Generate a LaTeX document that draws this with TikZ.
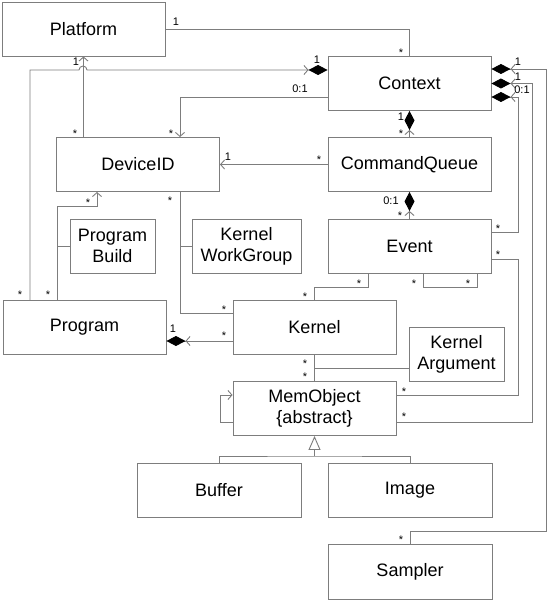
\documentclass[tikz,border=0pt]{standalone}
\usepackage{fontspec}
\setmainfont{Liberation Sans}
\usetikzlibrary{arrows.meta}
\definecolor{linegray}{RGB}{125,125,125}

\begin{document}
\begin{tikzpicture}[x=1pt,y=-1pt,
  box/.style={draw=linegray, line width=0.9pt, fill=white, minimum width=163pt, minimum height=54pt,
    inner sep=0pt, align=center, font=\fontsize{18}{21}\selectfont},
  mult/.style={inner sep=0pt, font=\fontsize{11}{12}\selectfont},
  link/.style={draw=linegray, line width=0.9pt},
  nav/.style={link, -{Straight Barb[length=4pt,width=9pt]}},
  comp/.style={link, -{Straight Barb[length=4pt,width=9pt]Diamond[length=19pt,width=10pt,black]}},
  gen/.style={link, -{Triangle[open,length=14pt,width=12pt,fill=white]}}]

% 画布大小
\useasboundingbox (0,0) rectangle (549,601);

% 类
\node[box] (Platform) at (83.5,29) {Platform};
\node[box] (Context) at (409.5,83.5) {Context};
\node[box] (DeviceID) at (138,164.5) {DeviceID};
\node[box] (CommandQueue) at (409.5,164.5) {CommandQueue};
\node[box, minimum width=85pt] (ProgramBuild) at (112.5,246) {Program\\Build};
\node[box, minimum width=109pt] (KernelWorkGroup) at (246.5,246) {Kernel\\WorkGroup};
\node[box] (Event) at (409.5,246) {Event};
\node[box] (Program) at (84.5,327.5) {Program};
\node[box] (Kernel) at (314.5,327.5) {Kernel};
\node[box, minimum width=95pt] (KernelArgument) at (456.5,354) {Kernel\\Argument};
\node[box] (MemObject) at (314.5,408.5) {MemObject\\\{abstract\}};
\node[box, minimum width=164pt] (Buffer) at (219,490) {Buffer};
\node[box, minimum width=164pt] (Image) at (410,490) {Image};
\node[box, minimum width=164pt, minimum height=55pt] (Sampler) at (410,571.5) {Sampler};

% 上部的关联
\draw[link] (Platform.east) -| (Context.north);
\draw[comp] ([xshift=-54.5pt]Program.north) |- (79,70) arc[start angle=180, end angle=360, radius=4]
  -- ([yshift=13.5pt]Context.west);
\draw[nav] (Platform.south |- DeviceID.north) -- (Platform.south);
\draw[nav] ([yshift=-13.5pt]Context.west) -| ([xshift=42pt]DeviceID.north);
\draw[comp] (CommandQueue.north) -- (Context.south);
\draw[nav] (CommandQueue.west) -- (DeviceID.east);
\draw[comp] (Event.north) -- (CommandQueue.south);

% Context 右侧的组合
\draw[comp] (Sampler.north) |- (546,531) |- ([yshift=14.5pt]Context.east);
\draw[comp] ([yshift=-13.5pt]MemObject.east) -| (532,83.5) -- (Context.east);
\draw[comp] ([yshift=13.5pt]Event.east) -| (518,97) -- ([yshift=-13.5pt]Context.east);
\draw[link] ([yshift=-13pt]Event.east) -| (518,395) -- ([yshift=13.5pt]MemObject.east);

% DeviceID 下方的关联类
\draw[nav] ([xshift=-27.5pt]Program.north) |- (97,206) -- ([xshift=-41pt]DeviceID.south);
\draw[link] (ProgramBuild.west) -- ++(-13,0);
\draw[link] ([xshift=42pt]DeviceID.south) |- ([yshift=14.5pt]Kernel.west);
\draw[link] (KernelWorkGroup.west) -- ++(-12,0);
\draw[comp] ([yshift=-13.5pt]Kernel.west) -- ([yshift=-13.5pt]Program.east);

% Event 与 Kernel
\draw[link] ([xshift=-41.5pt]Event.south) |- (314.5,287) -- (Kernel.north);
\draw[link] ([xshift=13.5pt]Event.south) -- ++(0,14) -| ([xshift=67.5pt]Event.south);

% Kernel 与 MemObject
\draw[link] (Kernel.south) -- (MemObject.north);
\draw[link] ([yshift=-14pt]KernelArgument.west) -- ([yshift=-14pt]KernelArgument.west -| Kernel.south);
\draw[nav] ([yshift=-13.5pt]MemObject.west) -- ++(-12,0) |- ([yshift=13.5pt]MemObject.west);

% 继承
\coordinate (genjoin) at (314.5,456);
\draw[link] (Buffer.north) |- (genjoin) -| (Image.north);
\draw[gen] (genjoin) -- (MemObject.south);

% 多重性
\foreach \x/\y/\t [count=\i] in {176/22/1, 401/53/*, 317/60/1, 20/295/*, 76/62/1, 75/134/*,
  300/89/0:1, 171/134/*, 401/117/1, 401/134/*, 228/157/1, 319/160/*, 391/201/0:1, 400/216/*,
  518/62/1, 518/77/1, 522/90/0:1, 401/540/*, 404/417/*, 498/229/*, 498/255/*, 404/392/*,
  48/295/*, 88/203/*, 170/201/*, 224/310/*, 173/329/1, 224/336/*, 359/284/*, 305/297/*,
  414/284/*, 468/284/*, 305/364/*, 305/377/*}
  \node[mult] (mult\i) at (\x,\y) {\t};

\end{tikzpicture}
\end{document}
